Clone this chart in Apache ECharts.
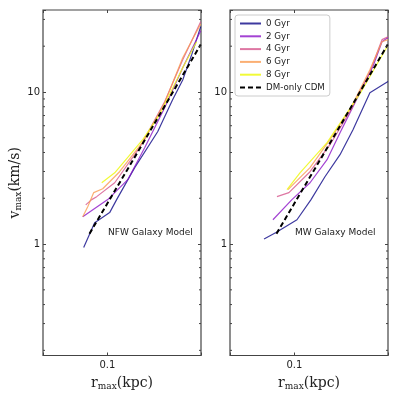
<!DOCTYPE html>
<html><head><meta charset="utf-8">
<script src="https://cdn.jsdelivr.net/npm/echarts@6/dist/echarts.min.js"></script>
<style>html,body{margin:0;padding:0;background:#fff}#c{width:399px;height:399px}</style>
</head><body><div id="c"></div>
<script>
// ---- axis ranges & tick labels ----
const X_MIN = 0.025, X_MAX = 0.75;
const Y_MIN = 0.185, Y_MAX = 34.6;
const xTickLabels = ['0.1'];
const yTickLabels = ['1', '10'];
const yMinorTicks = [0.2,0.3,0.4,0.5,0.6,0.7,0.8,0.9,2,3,4,5,6,7,8,9,20,30];

// ---- series ----
const seriesNames = ['0 Gyr','2 Gyr','4 Gyr','6 Gyr','8 Gyr','DM-only CDM'];
const lineColors = ['rgba(13,8,135,0.8)','rgba(140,20,200,0.8)','rgba(214,85,140,0.8)','rgba(250,155,80,0.8)','rgba(240,249,33,0.9)','#000'];

// NFW Galaxy Model panel  [rmax (kpc), vmax (km/s)]
const nfw0Gyr = [[0.060,0.95],[0.076,1.38],[0.105,1.61],[0.122,1.96],[0.180,3.18],[0.295,5.48],[0.407,8.9],[0.506,12.0],[0.614,17.6],[0.745,26.9]];
const nfw2Gyr = [[0.0588,1.51],[0.1007,1.96],[0.155,2.65],[0.223,4.30],[0.343,7.88],[0.506,14.45],[0.614,19.0],[0.745,25.3]];
const nfw4Gyr = [[0.0627,1.81],[0.0713,1.96],[0.0794,2.05],[0.117,2.53],[0.200,4.30],[0.343,8.63],[0.506,16.3],[0.745,29.0]];
const nfw6Gyr = [[0.0588,1.51],[0.0655,1.76],[0.0745,2.18],[0.0904,2.31],[0.130,2.99],[0.223,4.86],[0.343,8.5],[0.506,16.8],[0.745,28.0]];
const nfw8Gyr = [[0.0885,2.53],[0.117,2.94],[0.214,4.86],[0.308,7.09],[0.506,14.45],[0.683,21.4]];

// MW Galaxy Model panel
const mw0Gyr = [[0.052,1.08],[0.0673,1.19],[0.1057,1.445],[0.143,1.96],[0.193,2.77],[0.267,3.87],[0.353,5.65],[0.508,9.9],[0.75,11.7]];
const mw2Gyr = [[0.063,1.445],[0.0948,1.96],[0.140,2.53],[0.202,3.59],[0.267,5.40],[0.353,8.0],[0.542,14.7],[0.659,21.4],[0.75,22.8]];
const mw4Gyr = [[0.0687,2.05],[0.0889,2.18],[0.140,2.99],[0.215,4.50],[0.330,7.42],[0.508,13.6],[0.659,22.1],[0.75,23.1]];
const mw6Gyr = [[0.0871,2.28],[0.140,3.18],[0.215,4.86],[0.330,7.65],[0.508,14.0],[0.659,21.4],[0.75,22.1]];
const mw8Gyr = [[0.0853,2.28],[0.1127,2.94],[0.202,4.64],[0.410,9.75],[0.738,19.9]];

// DM-only CDM relation (both panels)
const cdm = [[0.068,1.17],[0.214,4.58],[0.745,20.5]];

const panelText = ['NFW Galaxy Model', 'MW Galaxy Model'];

// ---- helpers ----
const FRAME = '#444';
const sameLog = (a, b) => Math.abs(Math.log10(a) - Math.log10(b)) < 1e-6;
const labelFor = list => v => list.find(l => sameLog(parseFloat(l), v)) || '';
const serif = 'DejaVu Serif';
const nameRich = {
  a: {fontFamily: serif, fontSize: 14, color: '#222'},
  b: {fontFamily: serif, fontSize: 9, color: '#222', padding: [8, 0, 0, 0]}
};
function xAx(grid, pos) {
  const main = pos === 'bottom';
  return {
    gridIndex: grid, type: 'log', min: X_MIN, max: X_MAX, position: pos,
    axisLine: {show: false},
    axisTick: {show: true, inside: true, length: 3, lineStyle: {color: FRAME, width: 1}},
    axisLabel: {show: main, formatter: labelFor(xTickLabels), margin: 5, fontFamily: 'DejaVu Sans', fontSize: 10, color: '#222'},
    splitLine: {show: false}, minorTick: {show: false},
    name: main ? '{a|r}{b|max}{a|(kpc)}' : '', nameLocation: 'middle', nameGap: 19,
    nameTextStyle: {rich: nameRich}
  };
}
function yAx(grid, pos, withName) {
  const main = pos === 'left';
  return {
    gridIndex: grid, type: 'log', min: Y_MIN, max: Y_MAX, position: pos,
    axisLine: {show: false},
    axisTick: {show: true, inside: true, length: 3, lineStyle: {color: FRAME, width: 1}},
    axisLabel: {show: main, formatter: labelFor(yTickLabels), margin: 3, fontFamily: 'DejaVu Sans', fontSize: 10, color: '#222'},
    splitLine: {show: false},
    name: withName ? '{a|v}{b|max}{a|(km/s)}' : '', nameLocation: 'middle', nameGap: 12,
    nameTextStyle: {rich: nameRich}
  };
}
function minorTickSeries(xi, yi) {
  return {
    type: 'custom', xAxisIndex: xi, yAxisIndex: yi, silent: true, z: 5,
    data: yMinorTicks.map(v => [X_MIN, v]),
    renderItem: (params, api) => {
      const v = api.value(1);
      const pL = api.coord([X_MIN, v]);
      const pR = api.coord([X_MAX, v]);
      const st = {stroke: FRAME, lineWidth: 1};
      return {type: 'group', children: [
        {type: 'line', shape: {x1: pL[0], y1: pL[1], x2: pL[0] + 2, y2: pL[1]}, style: st},
        {type: 'line', shape: {x1: pR[0], y1: pR[1], x2: pR[0] - 2, y2: pR[1]}, style: st}
      ]};
    },
    clip: false
  };
}
function lineSeries(name, data, idx, xi, yi) {
  const isCdm = idx === 5;
  return {
    name, type: 'line', data, xAxisIndex: xi, yAxisIndex: yi,
    symbol: 'none', silent: true, z: isCdm ? 4 : 3,
    lineStyle: {color: lineColors[idx], width: isCdm ? 2 : 1.2, type: isCdm ? [5, 3] : 'solid'},
    itemStyle: {color: lineColors[idx]}
  };
}

const nfwSets = [nfw0Gyr, nfw2Gyr, nfw4Gyr, nfw6Gyr, nfw8Gyr, cdm];
const mwSets = [mw0Gyr, mw2Gyr, mw4Gyr, mw6Gyr, mw8Gyr, cdm];
const series = [];
nfwSets.forEach((d, i) => series.push(lineSeries(seriesNames[i], d, i, 0, 0)));
mwSets.forEach((d, i) => series.push(lineSeries(seriesNames[i], d, i, 2, 2)));
series.push(minorTickSeries(0, 0));
series.push(minorTickSeries(2, 2));

const chart = echarts.init(document.getElementById('c'), null, {renderer: 'canvas'});
chart.setOption({
  animation: false,
  backgroundColor: '#fff',
  grid: [
    {left: 43, top: 10, width: 158, height: 345.5, show: true, borderColor: FRAME, borderWidth: 1.2, backgroundColor: 'transparent'},
    {left: 230, top: 10, width: 158, height: 345.5, show: true, borderColor: FRAME, borderWidth: 1.2, backgroundColor: 'transparent'}
  ],
  xAxis: [xAx(0, 'bottom'), xAx(0, 'top'), xAx(1, 'bottom'), xAx(1, 'top')],
  yAxis: [yAx(0, 'left', true), yAx(0, 'right', false), yAx(1, 'left', false), yAx(1, 'right', false)],
  legend: {
    data: seriesNames, orient: 'vertical', left: 235, top: 15,
    itemWidth: 21, itemHeight: 10, itemGap: 3.8, padding: [4, 5, 4, 4],
    backgroundColor: '#fff', borderColor: '#ccc', borderWidth: 1, borderRadius: 3,
    itemStyle: {opacity: 0},
    textStyle: {fontFamily: 'DejaVu Sans', fontSize: 8.7, color: '#222'},
    selectedMode: false
  },
  graphic: [
    {type: 'text', left: 108, top: 228, style: {text: panelText[0], font: '9px "DejaVu Sans"', fill: '#222'}},
    {type: 'text', left: 295, top: 228, style: {text: panelText[1], font: '9px "DejaVu Sans"', fill: '#222'}}
  ],
  series
});
</script>
</body></html>
